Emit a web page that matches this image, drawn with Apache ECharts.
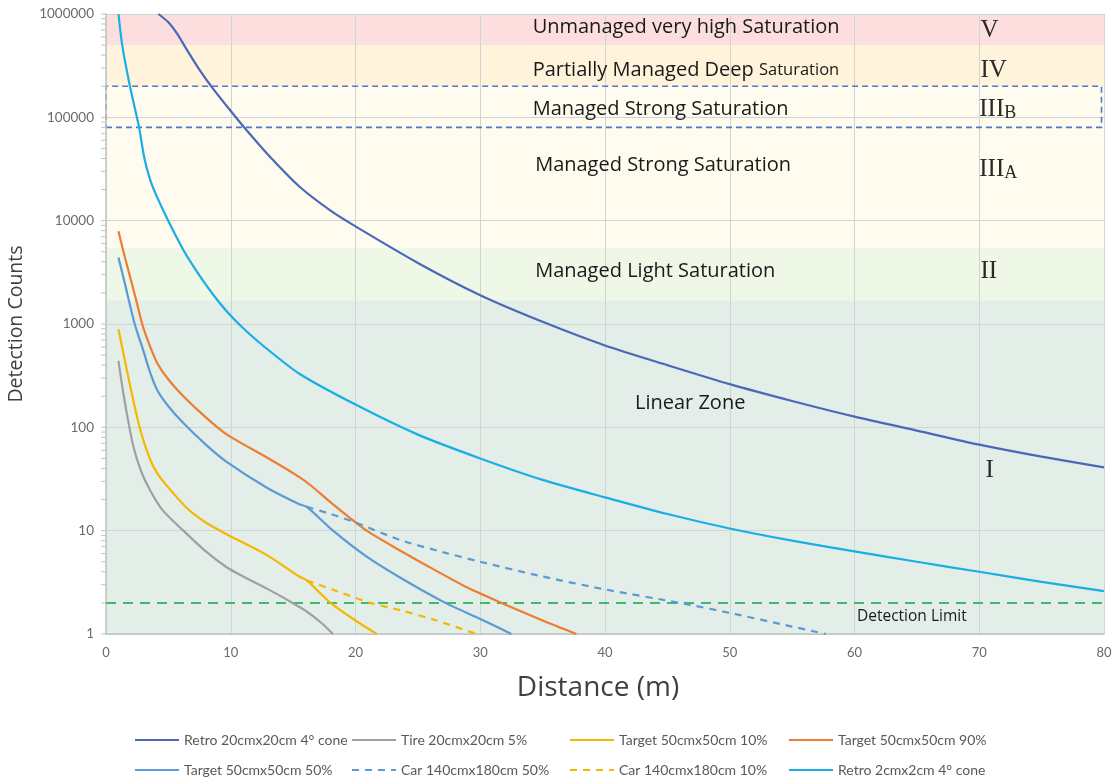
<!DOCTYPE html>
<html><head><meta charset="utf-8">
<script src="https://cdn.jsdelivr.net/npm/echarts@6/dist/echarts.min.js"></script>
<style>html,body{margin:0;padding:0;background:#fff}#c{width:1117px;height:783px}</style>
</head><body><div id="c"></div>
<script>
// ---------- data ----------
const seriesNames = ['Retro 20cmx20cm 4° cone','Tire 20cmx20cm 5%','Target 50cmx50cm 10%','Target 50cmx50cm 90%',
  'Target 50cmx50cm 50%','Car 140cmx180cm 50%','Car 140cmx180cm 10%','Retro 2cmx2cm 4° cone'];
const retro20 = [[4.2,1000000],[5.0,832000],[5.7,645000],[6.5,447000],[7.5,288000],[8.5,195000],[10,115000],[11.1,79400],
  [12.9,44700],[15.5,21400],[18,12500],[20,8800],[25,3900],[30,1900],[35,1050],[40,620],[45,400],[50,262],[55,180],
  [60,127],[65,93],[70,68],[75,52],[80,41]];
const tire20 = [[1,440],[1.3,250],[1.7,130],[2.2,65],[2.8,38],[3.5,25],[4.5,16],[6.2,10],[8,6.3],[9.7,4.4],[11,3.6],
  [12.9,2.75],[14.5,2.15],[16,1.68],[17.2,1.3],[18.2,1]];
const target10 = [[1,890],[1.5,450],[2.2,180],[2.8,90],[3.5,50],[4.1,36],[4.9,27],[6.5,16.5],[8,12],[9.7,9.2],
  [12.9,5.8],[15.5,3.6],[16.1,3.3],[18,2],[20,1.35],[21.7,1]];
const target90 = [[1,7900],[1.5,4500],[2.4,1740],[2.9,1000],[3.5,620],[4.1,420],[5,290],[6.2,200],[8,125],[9.7,85],
  [12.9,51],[15.5,33],[16.4,27.5],[18.2,18],[20.9,10],[23.6,6.4],[26.3,4.2],[29,2.8],[31.7,2],[35,1.35],[37.7,1]];
const target50 = [[1,4400],[1.5,2500],[2.3,1000],[3,550],[3.5,350],[4.1,230],[5,160],[6.2,110],[8,68],[9.7,46],
  [12.9,26],[15.5,18],[16.1,17],[18.2,10],[20.9,5.6],[23.6,3.5],[27.2,2],[30,1.4],[32.5,1]];
const car50 = [[16.1,17],[18,14.5],[20,12],[23.6,8.1],[27,6.2],[30,5],[35,3.6],[40,2.7],[46,2],[50,1.6],[55,1.18],[57.7,1]];
const car10 = [[16.1,3.3],[18.5,2.6],[21.2,2],[23.6,1.7],[26.5,1.35],[29.7,1]];
const retro2 = [[1,1000000],[1.3,500000],[1.92,200000],[2.65,80000],[3.1,39000],[3.7,22000],[4.9,10500],
  [6.2,5200],[7,3630],[8,2400],[9,1660],[10,1200],[11,910],[12.5,630],[15.5,330],[20,166],[25,85],[30,50],[35,31],[40,21],[45,14.5],
  [50,10.5],[55,8],[60,6.3],[65,5],[70,4],[75,3.2],[80,2.6]];
const detectionLimit = [[0,2],[80,2]];
const xTicks = [0,10,20,30,40,50,60,70,80];
const yTicks = [1,10,100,1000,10000,100000,1000000];
// zone bands: [from, to]
const zoneBands = [[1,1700],[1700,5500],[5500,200000],[200000,500000],[500000,1000000]];
const zoneIIIB = [80000,200000];
const minorTickValues = [];
for (let d = 1; d < 1000000; d *= 10) for (let k = 1; k <= 9; k++) minorTickValues.push(d*k);
minorTickValues.push(1000000);
// annotation texts: [x, y, text, kind]
const zoneTexts = [
  [34.2, 750000, 'Unmanaged very high Saturation', 'z'],
  [34.2, 287000, '{z|Partially Managed Deep }{zs|Saturation}', 'z'],
  [34.2, 120000, 'Managed Strong Saturation', 'z'],
  [34.4, 34500, 'Managed Strong Saturation', 'z'],
  [34.4, 3240, 'Managed Light Saturation', 'z'],
  [42.4, 171, 'Linear Zone', 'z'],
  [60.2, 1.49, 'Detection Limit', 'd'],
  [70.1, 700000, '{r|V}', 'r'],
  [70.1, 287000, '{r|IV}', 'r'],
  [70.0, 118000, '{r|III}{rs|B}', 'r'],
  [70.0, 31000, '{r|III}{rs|A}', 'r'],
  [70.1, 3240, '{r|II}', 'r'],
  [70.5, 38.5, '{r|I}', 'r']
];

// ---------- styles ----------
const colors = ['#4a68b8','#a0a0a0','#f5b800','#ed7d31','#5b9bd5','#5b9bd5','#f5b800','#19aee6'];
const dashed = [false,false,false,false,false,true,true,false];
const datasets = [retro20,tire20,target10,target90,target50,car50,car10,retro2];
const bandColors = ['#e3eee9','#eff7e7','#fffbef','#fff3dc','#fddede'];
const legendPos = [[134,733],[351,733],[569,733],[788,733],[134,763],[351,763],[569,763],[788,763]];
const fam = 'Lato, "Open Sans", sans-serif';
const fam2 = '"Open Sans", Lato, sans-serif';

const lineSeries = seriesNames.map((n,i)=>({
  name:n, type:'line', data:datasets[i], smooth:0.25, symbol:'none', z:3,
  lineStyle:{color:colors[i], width:2.2, type: dashed[i] ? [7,6] : 'solid'},
  itemStyle:{color:colors[i]}
}));

const option = {
  animation:false,
  backgroundColor:'#ffffff',
  grid:{left:106, right:13, top:14, bottom:149, containLabel:false, outerBoundsMode:'none'},
  xAxis:{type:'value', min:0, max:80, interval:10, z:1,
    name:'Distance (m)', nameLocation:'middle', nameGap:40,
    nameTextStyle:{fontFamily:fam2, fontSize:28, color:'#404040', padding:[0,14,0,0]},
    axisLine:{show:true, lineStyle:{color:'#c0c4c2', width:1.5}},
    axisTick:{show:false},
    axisLabel:{fontFamily:fam, fontSize:13, color:'#6a6a6a', margin:12},
    splitLine:{show:true, lineStyle:{color:'#cfd5d2', width:1}}
  },
  yAxis:{type:'log', logBase:10, min:1, max:1000000, z:1,
    name:'Detection Counts', nameLocation:'middle', nameGap:80, nameRotate:90,
    nameTextStyle:{fontFamily:fam2, fontSize:19.5, color:'#404040'},
    axisLine:{show:true, lineStyle:{color:'#c0c4c2', width:1.5}},
    axisTick:{show:false},
    axisLabel:{fontFamily:fam, fontSize:13.5, color:'#6a6a6a', margin:12, formatter:v=>String(Math.round(v))},
    splitLine:{show:true, lineStyle:{color:'#cfd5d2', width:1}}
  },
  legend: seriesNames.map((n,i)=>({
    data:[n], left:legendPos[i][0], top:legendPos[i][1], itemWidth:44, itemHeight:14, itemGap:0,
    itemStyle:{opacity:0},
    textStyle:{fontFamily:fam, fontSize:14, color:'#595959'}, selectedMode:false, padding:0
  })),
  series:[
    {type:'line', name:'zones', data:[], z:0, silent:true,
      markArea:{silent:true, z:0, itemStyle:{borderWidth:0},
        data: zoneBands.map((b,i)=>[{xAxis:0, yAxis:b[0], itemStyle:{color:bandColors[i]}},{xAxis:80, yAxis:b[1]}])}
    },
    {type:'line', name:'zoneIIIB', data:[], z:2, silent:true,
      markArea:{silent:true,
        data:[[{xAxis:-0.15, yAxis:zoneIIIB[0], itemStyle:{color:'rgba(0,0,0,0)', borderColor:'#4d78cc', borderWidth:1.6, borderType:[6,4]}},
               {xAxis:79.8, yAxis:zoneIIIB[1]}]]}
    },
    {type:'custom', name:'minorTicks', silent:true, clip:false, z:3,
      data: minorTickValues.map(v=>[0,v]),
      renderItem:(params, api)=>{
        const p = api.coord([0, api.value(1)]);
        return {type:'line', shape:{x1:p[0]-5, y1:p[1], x2:p[0], y2:p[1]}, style:{stroke:'#c0c4c2', lineWidth:1}};
      }
    },
    {type:'line', name:'Detection Limit', data:detectionLimit, symbol:'none', z:3, silent:true,
      lineStyle:{color:'#3dba6c', width:2, type:[10,7]}},
    ...lineSeries,
    {type:'custom', name:'annotations', silent:true, clip:false, z:5,
      data: zoneTexts.map((t,i)=>[t[0], t[1], i]),
      renderItem:(params, api)=>{
        const t = zoneTexts[api.value(2)];
        const p = api.coord([api.value(0), api.value(1)]);
        const fs = t[3]==='d' ? 15.5 : 20;
        return {type:'text', x:p[0], y:p[1], style:{
          text:t[2], fontFamily:fam2, fontSize:fs, fill:'#1a1a1a', align:'left', verticalAlign:'middle',
          rich:{
            z:{fontFamily:fam2, fontSize:20, fill:'#1a1a1a'},
            zs:{fontFamily:fam2, fontSize:16.5, fill:'#1a1a1a'},
            r:{fontFamily:'"Liberation Serif", serif', fontSize:25, fill:'#2a2a2a'},
            rs:{fontFamily:'"Liberation Serif", serif', fontSize:18, fill:'#2a2a2a', verticalAlign:'bottom'}
          }}};
      }
    }
  ]
};
const chart = echarts.init(document.getElementById('c'), null, {renderer:'canvas'});
chart.setOption(option);
</script>
</body></html>
